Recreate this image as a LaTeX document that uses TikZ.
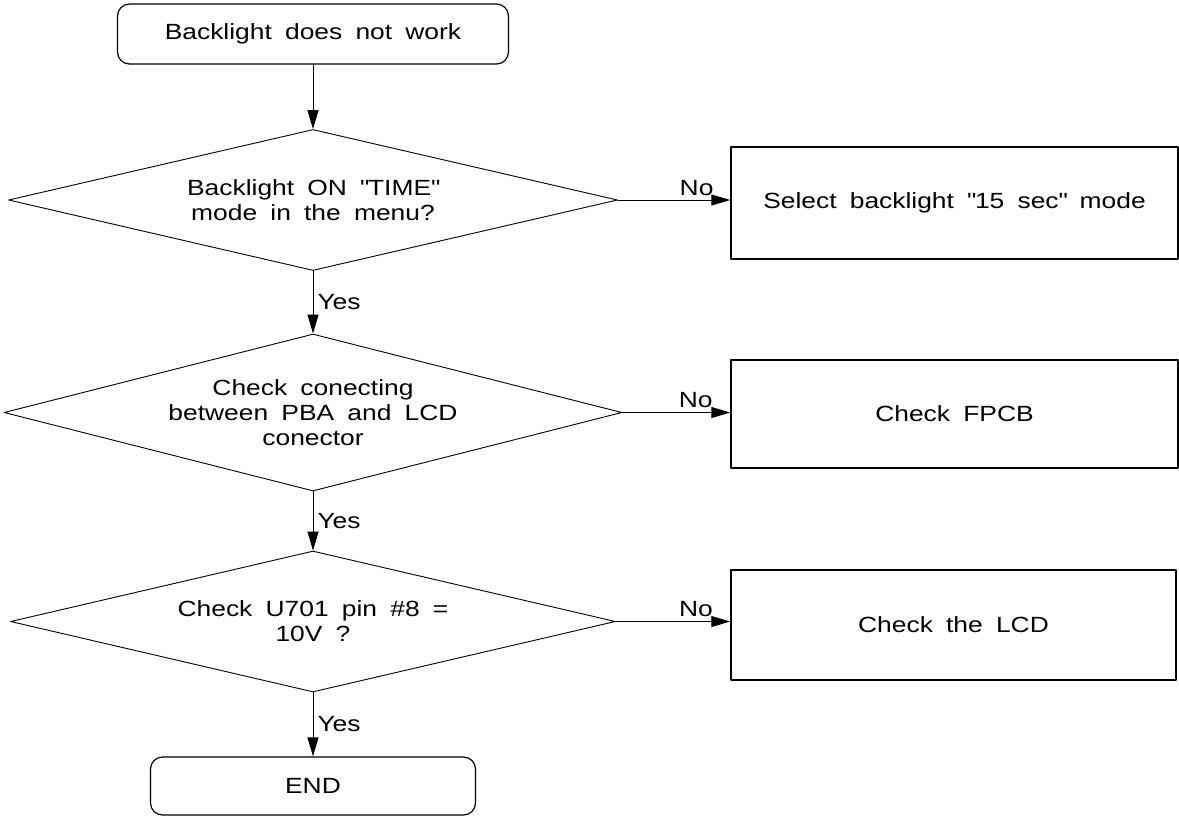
\documentclass[tikz,border=0pt]{standalone}
\usepackage{fontspec}
\setmainfont{Liberation Sans}[FakeStretch=1.2,WordSpace=1.8]
\usetikzlibrary{arrows.meta}
\usetikzlibrary{shapes.geometric}

\begin{document}
\begin{tikzpicture}[x=0.5pt,y=-0.5pt,line cap=round,line join=round,
    >={Triangle[length=9.5pt,width=5.5pt]},
    every node/.style={font=\fontsize{11}{12.5}\selectfont},
    terminal/.style={draw,line width=0.6pt,rounded corners=6pt,align=center},
    decision/.style={draw,diamond,aspect=4.3,line width=0.45pt,inner sep=0pt,align=center},
    process/.style={draw,rectangle,line width=0.75pt,align=center},
    lbl/.style={inner sep=2pt}]
    \useasboundingbox (0,0) rectangle (1179,816);
    % flow column
    \node[terminal,minimum width=195.5pt,minimum height=30pt] (start) at (313,34) {Backlight does not work};
    \node[decision,minimum width=304.5pt,minimum height=70.5pt] (dtime) at (313,200) {Backlight ON \textquotedbl TIME\textquotedbl\\mode in the menu?};
    \node[decision,minimum width=309pt,minimum height=78.5pt] (dconn) at (313,412.5) {Check conecting\\between PBA and LCD\\conector};
    \node[decision,minimum width=302.5pt,minimum height=70.5pt] (dvolt) at (313,621.5) {Check U701 pin \#8 =\\10V ?};
    \node[terminal,minimum width=162.5pt,minimum height=29pt] (stop) at (313,786) {END};
    % boxes on the right
    \node[process,minimum width=223.5pt,minimum height=56pt] (selmode) at (954.5,203) {Select backlight \textquotedbl 15 sec\textquotedbl\ mode};
    \node[process,minimum width=223.5pt,minimum height=54pt] (fpcb) at (954.5,414) {Check FPCB};
    \node[process,minimum width=222.5pt,minimum height=55pt] (lcd) at (953.5,625) {Check the LCD};
    % connectors
    \draw[->,line width=0.5pt] (start) -- (dtime);
    \draw[->,line width=0.5pt] (dtime) -- node[right,lbl] {Yes} (dconn);
    \draw[->,line width=0.5pt] (dconn) -- node[right,lbl] {Yes} (dvolt);
    \draw[->,line width=0.5pt] (dvolt) -- node[right,lbl] {Yes} (stop);
    \draw[->,line width=0.5pt] (dtime.east) -- node[pos=0.7,above,lbl] {No} (dtime.east -| selmode.west);
    \draw[->,line width=0.5pt] (dconn.east) -- node[pos=0.68,above,lbl] {No} (dconn.east -| fpcb.west);
    \draw[->,line width=0.5pt] (dvolt.east) -- node[pos=0.7,above,lbl] {No} (dvolt.east -| lcd.west);
\end{tikzpicture}
\end{document}
